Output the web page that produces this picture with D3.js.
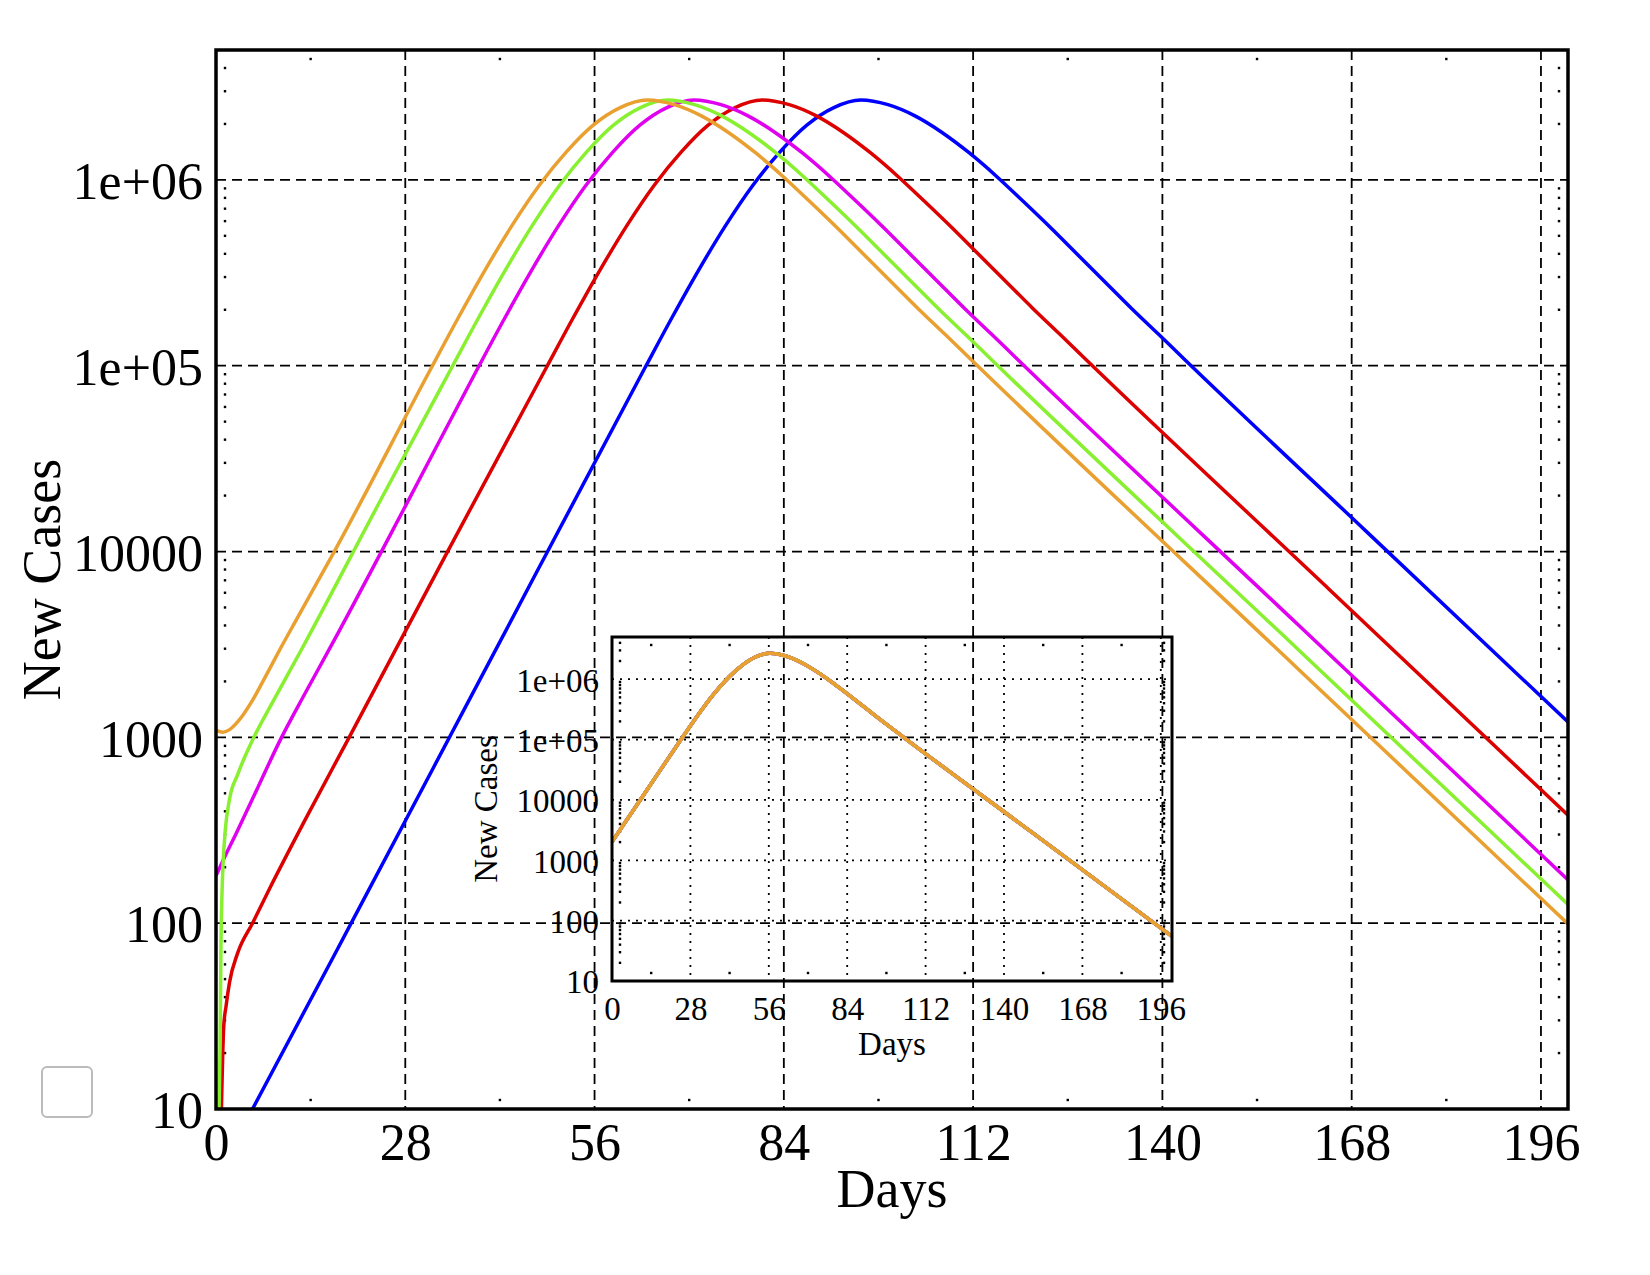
<!DOCTYPE html>
<html>
<head>
<meta charset="utf-8">
<script src="https://cdn.jsdelivr.net/npm/d3@7"></script>
<style>
    body { margin: 0; background: #fff; }
    svg { display: block; }
    text { font-family: "Liberation Serif", "Times New Roman", serif; fill: #000; }
</style>
</head>
<body>
<svg id="chart" width="1650" height="1275"></svg>
<script>
// ---- data ----
var xTickValues = [0, 28, 56, 84, 112, 140, 168, 196];
var yTickValues = [10, 100, 1000, 10000, 100000, 1000000];
var yTickLabels = ["10", "100", "1000", "10000", "1e+05", "1e+06"];

var blueDays = [0, 5.4, 20, 40, 63.4, 67.4, 71.4, 75.4, 79.4, 83.4, 87.4, 91.4, 95.4, 99.4, 103.4, 107.4, 111.4, 115.4, 119.4, 123.4, 127.4, 131.4, 135.4, 139.4, 143.4, 170, 200];
var blueCases = [4.3, 10, 100, 2380, 96600, 180000, 327000, 569000, 933000, 1410000, 1970000, 2450000, 2690000, 2540000, 2210000, 1800000, 1400000, 1050000, 767000, 556000, 398000, 285000, 204000, 148000, 107000, 13000, 1210];

var redDays = [0, 0.8, 1.0, 1.15, 1.5, 2, 3.2, 5.4, 8.1, 13.1, 19.7, 34, 48.8, 52.8, 56.8, 60.8, 64.8, 68.8, 72.8, 76.8, 80.8, 84.8, 88.8, 92.8, 96.8, 100.8, 104.8, 108.8, 112.8, 116.8, 120.8, 124.8, 128.8, 165, 200];
var redCases = [1, 10, 20, 28, 36, 48, 69, 100, 158, 355, 1000, 9600, 96600, 180000, 327000, 569000, 933000, 1410000, 1970000, 2450000, 2690000, 2540000, 2210000, 1800000, 1400000, 1050000, 767000, 556000, 398000, 285000, 204000, 148000, 107000, 6100, 381];

var magentaDays = [0, 1.3, 3, 5.2, 9.7, 13, 16.8, 28, 38.7, 42.7, 46.7, 50.7, 54.7, 58.7, 62.7, 66.7, 70.7, 74.7, 78.7, 82.7, 86.7, 90.7, 94.7, 98.7, 102.7, 106.7, 110.7, 114.7, 118.7, 160, 200];
var magentaCases = [180, 228, 305, 450, 1000, 1680, 3000, 17500, 96600, 180000, 327000, 569000, 933000, 1410000, 1970000, 2450000, 2690000, 2540000, 2210000, 1800000, 1400000, 1050000, 767000, 556000, 398000, 285000, 204000, 148000, 107000, 4060, 171];

var greenDays = [0, 0.45, 0.6, 0.75, 0.9, 1.05, 1.35, 2, 3.2, 5.6, 8.6, 12.65, 24, 34.8, 38.8, 42.8, 46.8, 50.8, 54.8, 58.8, 62.8, 66.8, 70.8, 74.8, 78.8, 82.8, 86.8, 90.8, 94.8, 98.8, 102.8, 106.8, 110.8, 114.8, 160, 200];
var greenCases = [2, 10, 22, 85, 150, 210, 310, 465, 630, 1000, 1600, 2970, 17900, 96600, 180000, 327000, 569000, 933000, 1410000, 1970000, 2450000, 2690000, 2540000, 2210000, 1800000, 1400000, 1050000, 767000, 556000, 398000, 285000, 204000, 148000, 107000, 2990, 126];

var orangeDays = [0, 1, 2, 3, 4, 5.3, 7, 9.45, 12, 17.5, 31.8, 35.8, 39.8, 43.8, 47.8, 51.8, 55.8, 59.8, 63.8, 67.8, 71.8, 75.8, 79.8, 83.8, 87.8, 91.8, 95.8, 99.8, 103.8, 107.8, 111.8, 160, 200];
var orangeCases = [1090, 1065, 1100, 1190, 1320, 1560, 2020, 2970, 4370, 10000, 96600, 180000, 327000, 569000, 933000, 1410000, 1970000, 2450000, 2690000, 2540000, 2210000, 1800000, 1400000, 1050000, 767000, 556000, 398000, 285000, 204000, 148000, 107000, 2350, 99];

// inset: all five curves shifted onto each other
var insetDays = [0, 12, 24.4, 28.4, 32.4, 36.4, 40.4, 44.4, 48.4, 52.4, 56.4, 60.4, 64.4, 68.4, 72.4, 76.4, 80.4, 84.4, 88.4, 92.4, 96.4, 100.4, 104.4, 150, 200];
var insetCases = [2020, 13500, 96600, 180000, 327000, 569000, 933000, 1410000, 1970000, 2450000, 2690000, 2540000, 2210000, 1800000, 1400000, 1050000, 767000, 556000, 398000, 285000, 204000, 148000, 107000, 2890, 55];

var seriesColors = ["#0000ff", "#dd0000", "#e000f0", "#88f030", "#e9a030"];

var series = [
    { days: blueDays, cases: blueCases, color: seriesColors[0] },
    { days: redDays, cases: redCases, color: seriesColors[1] },
    { days: magentaDays, cases: magentaCases, color: seriesColors[2] },
    { days: greenDays, cases: greenCases, color: seriesColors[3] },
    { days: orangeDays, cases: orangeCases, color: seriesColors[4] }
];

var svg = d3.select("#chart");

svg.append("rect").attr("width", 1650).attr("height", 1275).attr("fill", "#fff");

// draws one framed log plot (used for the main plot and for the inset)
function drawPanel(box, opt) {
    var x = d3.scaleLinear().domain([0, 200]).range([box.left, box.right]);
    var y = d3.scaleLog().domain([10, 5e6]).range([box.bottom, box.top]);
    var g = svg.append("g");

    // grid
    g.selectAll(".vgrid")
        .data(xTickValues.filter(d => d > 0))
        .enter().append("line")
        .attr("x1", d => x(d)).attr("x2", d => x(d))
        .attr("y1", box.top).attr("y2", box.bottom)
        .attr("stroke", "#000").attr("stroke-width", opt.gridWidth)
        .attr("stroke-dasharray", opt.dash);

    g.selectAll(".hgrid")
        .data(yTickValues.filter(d => d > 10))
        .enter().append("line")
        .attr("x1", box.left).attr("x2", box.right)
        .attr("y1", d => y(d)).attr("y2", d => y(d))
        .attr("stroke", "#000").attr("stroke-width", opt.gridWidth)
        .attr("stroke-dasharray", opt.dash);

    // minor ticks drawn as dots just inside the frame
    var minorY = [];
    yTickValues.forEach(function (v) {
        for (var k = 2; k <= 9; k++) {
            if (v * k < 5e6) minorY.push(v * k);
        }
    });
    var minorX = xTickValues.map(d => d + 14).filter(d => d < 200);

    [box.left + opt.inset, box.right - opt.inset].forEach(function (px) {
        g.selectAll(null).data(minorY).enter().append("rect")
            .attr("x", px - 1.2).attr("y", d => y(d) - 1.2)
            .attr("width", 2.4).attr("height", 2.4).attr("fill", "#000");
    });
    [box.top + opt.inset, box.bottom - opt.inset].forEach(function (py) {
        g.selectAll(null).data(minorX).enter().append("rect")
            .attr("x", d => x(d) - 1.2).attr("y", py - 1.2)
            .attr("width", 2.4).attr("height", 2.4).attr("fill", "#000");
    });

    // curves
    var clipId = "clip" + opt.name;
    svg.append("clipPath").attr("id", clipId)
        .append("rect")
        .attr("x", box.left).attr("y", box.top)
        .attr("width", box.right - box.left).attr("height", box.bottom - box.top);

    var line = d3.line()
        .x(d => x(d[0]))
        .y(d => y(d[1]))
        .curve(d3.curveMonotoneX);

    g.append("g").attr("clip-path", "url(#" + clipId + ")")
        .selectAll("path")
        .data(opt.series)
        .enter().append("path")
        .attr("d", s => line(d3.zip(s.days, s.cases)))
        .attr("fill", "none")
        .attr("stroke", s => s.color)
        .attr("stroke-width", 3.5)
        .attr("stroke-linejoin", "round");

    // frame
    g.append("rect")
        .attr("x", box.left).attr("y", box.top)
        .attr("width", box.right - box.left).attr("height", box.bottom - box.top)
        .attr("fill", "none").attr("stroke", "#000").attr("stroke-width", opt.frameWidth);

    // axes (labels only)
    var xAxis = d3.axisBottom(x).tickValues(xTickValues).tickSize(0).tickFormat(d3.format("d"));
    var ax = g.append("g").attr("transform", "translate(0," + box.bottom + ")").call(xAxis);
    ax.select(".domain").remove();
    ax.selectAll("text")
        .attr("y", opt.xLabelY - box.bottom).attr("dy", null)
        .style("font-size", opt.tickSize + "px")
        .style("font-family", '"Liberation Serif", "Times New Roman", serif');

    var yAxis = d3.axisLeft(y).tickValues(yTickValues).tickSize(0).tickPadding(opt.yPad)
        .tickFormat((d, i) => yTickLabels[i]);
    var ay = g.append("g").attr("transform", "translate(" + box.left + ",0)").call(yAxis);
    ay.select(".domain").remove();
    ay.selectAll("text")
        .attr("dy", opt.yDy)
        .style("font-size", opt.tickSize + "px")
        .style("font-family", '"Liberation Serif", "Times New Roman", serif');

    // titles
    g.append("text")
        .attr("x", (box.left + box.right) / 2).attr("y", opt.xTitleY)
        .attr("text-anchor", "middle")
        .style("font-size", opt.titleSize + "px")
        .text("Days");

    g.append("text")
        .attr("transform", "translate(" + opt.yTitleX + "," + (box.top + box.bottom) / 2 + ") rotate(-90)")
        .attr("text-anchor", "middle")
        .style("font-size", opt.titleSize + "px")
        .text("New Cases");
}

drawPanel({ left: 216, right: 1568, top: 50, bottom: 1109 }, {
    name: "main", series: series, dash: "10,6", gridWidth: 1.8, frameWidth: 3.5, inset: 9,
    tickSize: 52, titleSize: 54, xLabelY: 1160, yPad: 13, yDy: "0.36em",
    xTitleY: 1207, yTitleX: 60
});

drawPanel({ left: 612, right: 1172, top: 637, bottom: 981 }, {
    name: "inset",
    series: series.map(s => ({ days: insetDays, cases: insetCases, color: s.color })),
    dash: "2,6", gridWidth: 1.8, frameWidth: 3, inset: 8,
    tickSize: 33, titleSize: 33, xLabelY: 1020, yPad: 13, yDy: "0.36em",
    xTitleY: 1055, yTitleX: 497
});

// empty legend box, bottom left
svg.append("rect")
    .attr("x", 42).attr("y", 1067)
    .attr("width", 50).attr("height", 50)
    .attr("rx", 5)
    .attr("fill", "#fff").attr("stroke", "#bbb").attr("stroke-width", 2);
</script>
</body>
</html>
